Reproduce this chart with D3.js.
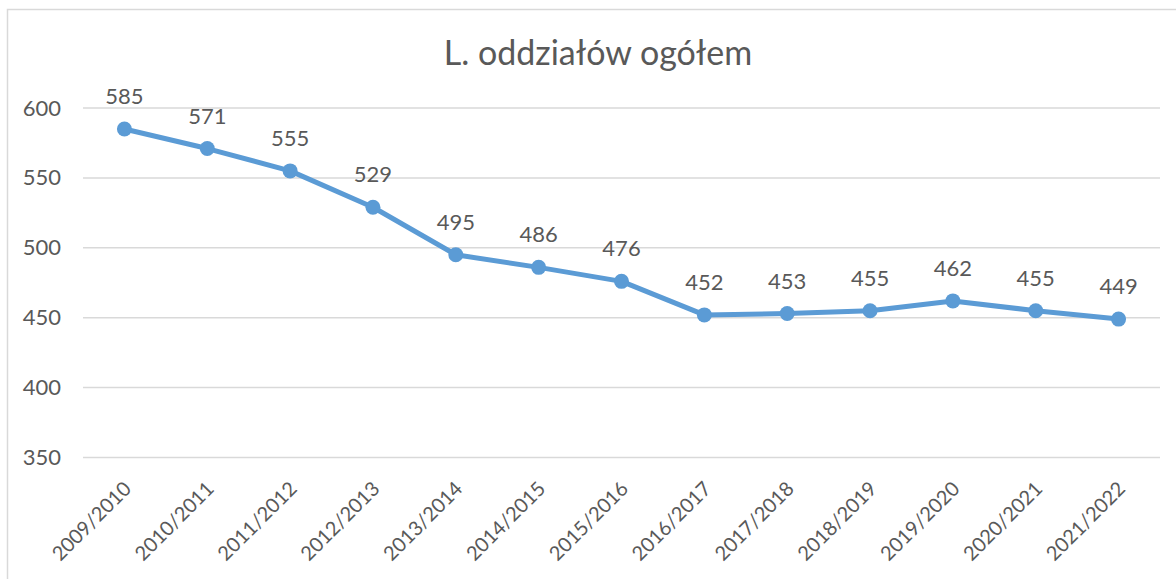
<!DOCTYPE html>
<html>
<head>
<meta charset="utf-8">
<script src="https://cdn.jsdelivr.net/npm/d3@7"></script>
<style>
    body { margin: 0; background: #fff; }
    text { font-family: Lato, "Open Sans", sans-serif; fill: #595959; }
</style>
</head>
<body>
<svg id="chart"></svg>
<script>
// data
var years = ["2009/2010", "2010/2011", "2011/2012", "2012/2013", "2013/2014", "2014/2015", "2015/2016",
    "2016/2017", "2017/2018", "2018/2019", "2019/2020", "2020/2021", "2021/2022"];
var values = [585, 571, 555, 529, 495, 486, 476, 452, 453, 455, 462, 455, 449];
var yTicks = [350, 400, 450, 500, 550, 600];
var title = "L. oddziałów ogółem";

var svgWidth = 1176, svgHeight = 579;
var margin = {left: 83, right: 16, top: 108, bottom: 121};

var svg = d3.select("#chart").attr("width", svgWidth).attr("height", svgHeight);

// chart area frame
svg.append("rect")
    .attr("x", 7.5).attr("y", 9.5)
    .attr("width", svgWidth + 10).attr("height", svgHeight + 10)
    .attr("fill", "none").attr("stroke", "#d9d9d9").attr("stroke-width", 1.5);

var x = d3.scaleBand().domain(years).range([margin.left, svgWidth - margin.right]);
var y = d3.scaleLinear().domain([350, 600]).range([svgHeight - margin.bottom - 0.5, margin.top]);

// gridlines
svg.append("g")
    .selectAll("line")
    .data(yTicks)
    .enter().append("line")
    .attr("x1", margin.left).attr("x2", svgWidth - margin.right)
    .attr("y1", function (d) { return y(d); })
    .attr("y2", function (d) { return y(d); })
    .attr("stroke", "#d9d9d9").attr("stroke-width", 1.5);

// y axis labels
var yAxis = d3.axisLeft(y).tickValues(yTicks).tickSize(0).tickPadding(0);
var gy = svg.append("g").attr("transform", "translate(61,0)").call(yAxis);
gy.select(".domain").remove();
gy.selectAll("text").attr("font-size", 22).style("font-family", null).attr("fill", null);

// x axis labels
var xAxis = d3.axisBottom(x).tickSize(0).tickPadding(0);
var gx = svg.append("g").attr("transform", "translate(0," + (svgHeight - margin.bottom) + ")").call(xAxis);
gx.select(".domain").remove();
gx.selectAll("text")
    .attr("font-size", 20).style("font-family", null).attr("fill", null)
    .attr("text-anchor", "end")
    .attr("dy", null).attr("y", null)
    .attr("transform", "translate(8,32) rotate(-45)");

var cx = function (d, i) { return x(years[i]) + x.bandwidth() / 2; };

// line
var line = d3.line()
    .x(function (d, i) { return cx(d, i); })
    .y(function (d) { return y(d); });

svg.append("path")
    .datum(values)
    .attr("d", line)
    .attr("fill", "none")
    .attr("stroke", "#5b9bd5")
    .attr("stroke-width", 5)
    .attr("stroke-linejoin", "round");

svg.selectAll(".dot")
    .data(values)
    .enter().append("circle")
    .attr("class", "dot")
    .attr("cx", cx)
    .attr("cy", function (d) { return y(d); })
    .attr("r", 7.5)
    .attr("fill", "#5b9bd5");

// data labels
svg.selectAll(".lbl")
    .data(values)
    .enter().append("text")
    .attr("class", "lbl")
    .attr("x", cx)
    .attr("y", function (d) { return y(d) - 25; })
    .attr("text-anchor", "middle")
    .attr("font-size", 22)
    .text(function (d) { return d; });

// title
svg.append("text")
    .attr("x", 598).attr("y", 65)
    .attr("text-anchor", "middle")
    .attr("font-size", 34)
    .text(title);
</script>
</body>
</html>
